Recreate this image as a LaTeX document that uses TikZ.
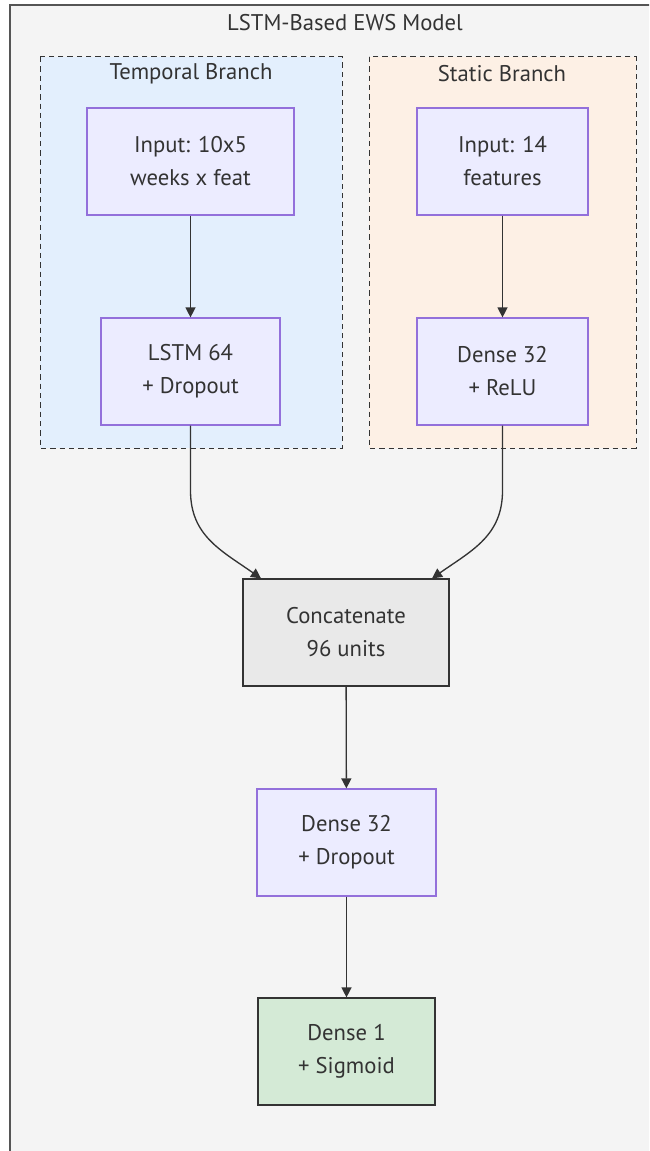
\documentclass[tikz,border=0pt]{standalone}
\usepackage{fontspec}
\setmainfont{PT Sans}
\usepackage{xcolor}
\usetikzlibrary{arrows.meta}
\usetikzlibrary{calc, math}
\definecolor{outerbg}{HTML}{F4F4F4}
\definecolor{outerline}{HTML}{555555}
\definecolor{textgray}{HTML}{333333}
\definecolor{tempblue}{HTML}{E3EFFD}
\definecolor{statorange}{HTML}{FDF0E5}
\definecolor{layerfill}{HTML}{ECECFF}
\definecolor{layerline}{HTML}{9370DB}
\definecolor{concatfill}{HTML}{E9E9E9}
\definecolor{outfill}{HTML}{D4EAD6}

\begin{document}
\begin{tikzpicture}[x=0.75pt,y=-0.75pt,
  font=\fontsize{17}{24.75}\selectfont,
  every node/.style={text=textgray},
  branch/.style={draw=textgray, line width=0.75pt, dash pattern=on 4pt off 3pt},
  layer/.style={draw=layerline, fill=layerfill, line width=0.9pt, align=center, inner sep=0pt, minimum height=107*0.75pt},
  merge/.style={layer, draw=textgray, fill=concatfill},
  outlayer/.style={layer, draw=textgray, fill=outfill},
  flow/.style={draw=textgray, line width=1pt, -{Triangle[length=7.5pt,width=7.5pt]}}
]
\useasboundingbox (0,0) rectangle (649,1151);
\clip (0,0) rectangle (649,1151);
\fill[white] (0,0) rectangle (649,1151);
\draw[fill=outerbg, draw=outerline, line width=1.5pt] (10,5) rectangle (680,1180);
\node (title) at (345,23) {LSTM-Based EWS Model};

% branches
\draw[branch, fill=tempblue] (40,57) rectangle (342,448);
\node (temptitle) at (191,74) {Temporal Branch};
\draw[branch, fill=statorange] (369,57) rectangle (636,448);
\node (stattitle) at (502,74) {Static Branch};

\node[layer, minimum width=207*0.75pt] (seqin) at (190.5,161.5) {Input: 10x5\\weeks x feat};
\node[layer, minimum width=179*0.75pt] (lstm) at (190.5,371.5) {LSTM 64\\+ Dropout};
\node[layer, minimum width=171*0.75pt] (statin) at (502.5,161.5) {Input: 14\\features};
\node[layer, minimum width=171*0.75pt] (relu) at (502.5,371.5) {Dense 32\\+ ReLU};

% head
\node[merge, minimum width=206*0.75pt] (concat) at (346,632.5) {Concatenate\\96 units};
\node[layer, minimum width=179*0.75pt] (hidden) at (346.5,842.5) {Dense 32\\+ Dropout};
\node[outlayer, minimum width=177*0.75pt] (out) at (346.5,1051.5) {Dense 1\\+ Sigmoid};

\draw[flow] (seqin) -- (lstm);
\draw[flow] (statin) -- (relu);
\draw[flow] (lstm.south) -- ++(0,65) .. controls +(0,45) and +(-40,-28) .. ($(concat.north)+(-85,0)$);
\draw[flow] (relu.south) -- ++(0,65) .. controls +(0,45) and +(40,-28) .. ($(concat.north)+(86,0)$);
\draw[flow] (concat) -- (hidden);
\draw[flow] (hidden) -- (out);

\end{tikzpicture}
\end{document}
